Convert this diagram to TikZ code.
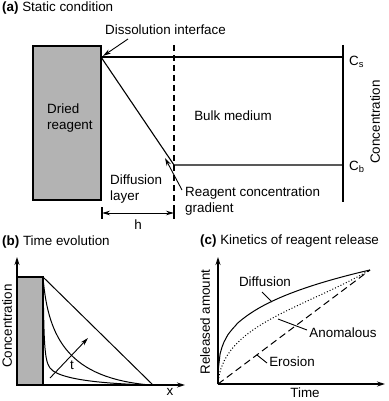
\documentclass[tikz,border=0pt]{standalone}
\usepackage{fontspec}
\setmainfont{Liberation Sans}
\usepackage{tikz}
\usetikzlibrary{positioning,
                arrows.meta}
\definecolor{reagentgray}{HTML}{B3B3B3}

\begin{document}
\begin{tikzpicture}[x=1pt,y=-1pt,font=\fontsize{13.4}{16}\selectfont]  % <-- pixel grid, y down

\tikzset{
plainline/.style={
line width=1.1pt
},
curveline/.style={
line width=1pt
},
axisline/.style={
line width=1.1pt,
-{Stealth[length=8pt,width=5pt]}
},
pointer/.style={
line width=0.9pt,
-{Stealth[length=8pt,width=4.5pt]}
},
leader/.style={
line width=0.9pt
},
reagentbox/.style={
draw=black,
line width=1.1pt,
fill=reagentgray
},
paneltitle/.style={
anchor=west,
inner sep=0pt
},
textlabel/.style={
align=left,
inner sep=0pt
}
}

\useasboundingbox (0,0) rectangle (388,401);

%----------------------------------
% PANEL (a)
%----------------------------------

\node[paneltitle] (titleA) at (2,8) {\textbf{(a)} Static condition};

\draw[reagentbox] (33,46) rectangle (101,200);
\node[textlabel,anchor=west] (dried) at (47,118) {Dried\\reagent};

\coordinate (ifc) at (101,57);
\coordinate (cs) at (343,57);
\coordinate (kink) at (174,165);
\coordinate (cb) at (343,165);
\coordinate (axtop) at (343,45);
\coordinate (axbot) at (343,202);
\coordinate (dashtop) at (174,45);
\coordinate (dashbot) at (174,219);

\draw[plainline] (ifc) -- (cs);
\draw[plainline] (ifc) -- (kink) -- (cb);
\draw[plainline] (axtop) -- (axbot);
\draw[plainline,dash pattern=on 6pt off 4pt] (dashtop) -- (dashbot);

\node[textlabel,anchor=west] (cslabel) at (349,62) {C\textsubscript{s}};
\node[textlabel,anchor=west] (cblabel) at (349,167) {C\textsubscript{b}};
\node[rotate=90,inner sep=0pt] (concA) at (375,122) {Concentration};
\node[inner sep=0pt] (bulk) at (233,116) {Bulk medium};

\node[textlabel,anchor=west] (dissolution) at (105,30) {Dissolution interface};
\coordinate (ifctail) at (128,39);
\coordinate (ifchead) at (103,56);
\draw[pointer] (ifctail) -- (ifchead);

\node[textlabel,anchor=west] (layer) at (110,189) {Diffusion\\layer};

\coordinate (hleft) at (102,213);
\coordinate (hright) at (174,213);
\draw[pointer,{Stealth[length=8pt,width=4.5pt]}-{Stealth[length=8pt,width=4.5pt]}] (hleft) -- (hright);
\draw[plainline] (hleft) ++(0,-6) -- ++(0,12);
\draw[plainline] (hright) ++(0,-6) -- ++(0,12);
\node[inner sep=0pt] (hlabel) at (138,225) {h};

\node[textlabel,anchor=west] (gradient) at (185,201) {Reagent concentration\\gradient};
\coordinate (gradtail) at (182,190);
\coordinate (gradhead) at (165,158);
\draw[pointer] (gradtail) -- (gradhead);

%----------------------------------
% PANEL (b)
%----------------------------------

\node[paneltitle] (titleB) at (2,242) {\textbf{(b)} Time evolution};

\coordinate (originB) at (17,385);
\coordinate (ytopB) at (17,257);
\coordinate (xendB) at (185,385);
\draw[axisline] (originB) -- (ytopB);
\draw[axisline] (originB) -- (xendB);

\draw[reagentbox] (17,277) rectangle (43,385);

\coordinate (wall) at (43,277);
\coordinate (front) at (153,385);
\coordinate (tail) at (150,385);
\draw[curveline] (wall) -- (front);
\draw[curveline] (wall) .. controls (48,340) and (70,378) .. (tail);
\draw[curveline] (wall) .. controls (44,340) and (44,360) .. (50,368)
                        .. controls (56,376) and (80,383) .. (tail);

\coordinate (tstart) at (50,378);
\coordinate (tend) at (88,338);
\draw[pointer] (tstart) -- (tend);
\node[inner sep=0pt] (tlabel) at (72,365) {t};

\node[rotate=90,inner sep=0pt] (concB) at (7,326) {Concentration};
\node[inner sep=0pt] (xlabel) at (170,392) {x};

%----------------------------------
% PANEL (c)
%----------------------------------

\node[paneltitle] (titleC) at (200,241) {\textbf{(c)} Kinetics of reagent release};

\coordinate (originC) at (218,384);
\coordinate (ytopC) at (218,257);
\coordinate (xendC) at (385,384);
\coordinate (endC) at (370,270);
\draw[axisline] (originC) -- (ytopC);
\draw[axisline] (originC) -- (xendC);

\draw[curveline] (originC) -- plot[domain=0.001:1,samples=80] ({218+152*\x},{384-114*(\x^0.31)});
\draw[curveline,dotted] (originC) .. controls (222,325) and (300,310) .. (endC);
\draw[curveline,dash pattern=on 7pt off 4pt] (originC) -- (endC);

\node[inner sep=0pt] (diffusion) at (265,282) {Diffusion};
\coordinate (diffa) at (262,292);
\coordinate (diffb) at (272,302);
\draw[leader] (diffa) -- (diffb);

\node[inner sep=0pt] (anomalous) at (343,333) {Anomalous};
\coordinate (anoma) at (278,319);
\coordinate (anomb) at (307,330);
\draw[leader] (anoma) -- (anomb);

\node[inner sep=0pt] (erosion) at (292,362) {Erosion};
\coordinate (erosa) at (257,355);
\coordinate (erosb) at (267,363);
\draw[leader] (erosa) -- (erosb);

\node[rotate=90,inner sep=0pt] (released) at (205,322) {Released amount};
\node[inner sep=0pt] (timelabel) at (305,393) {Time};

\end{tikzpicture}
\end{document}
